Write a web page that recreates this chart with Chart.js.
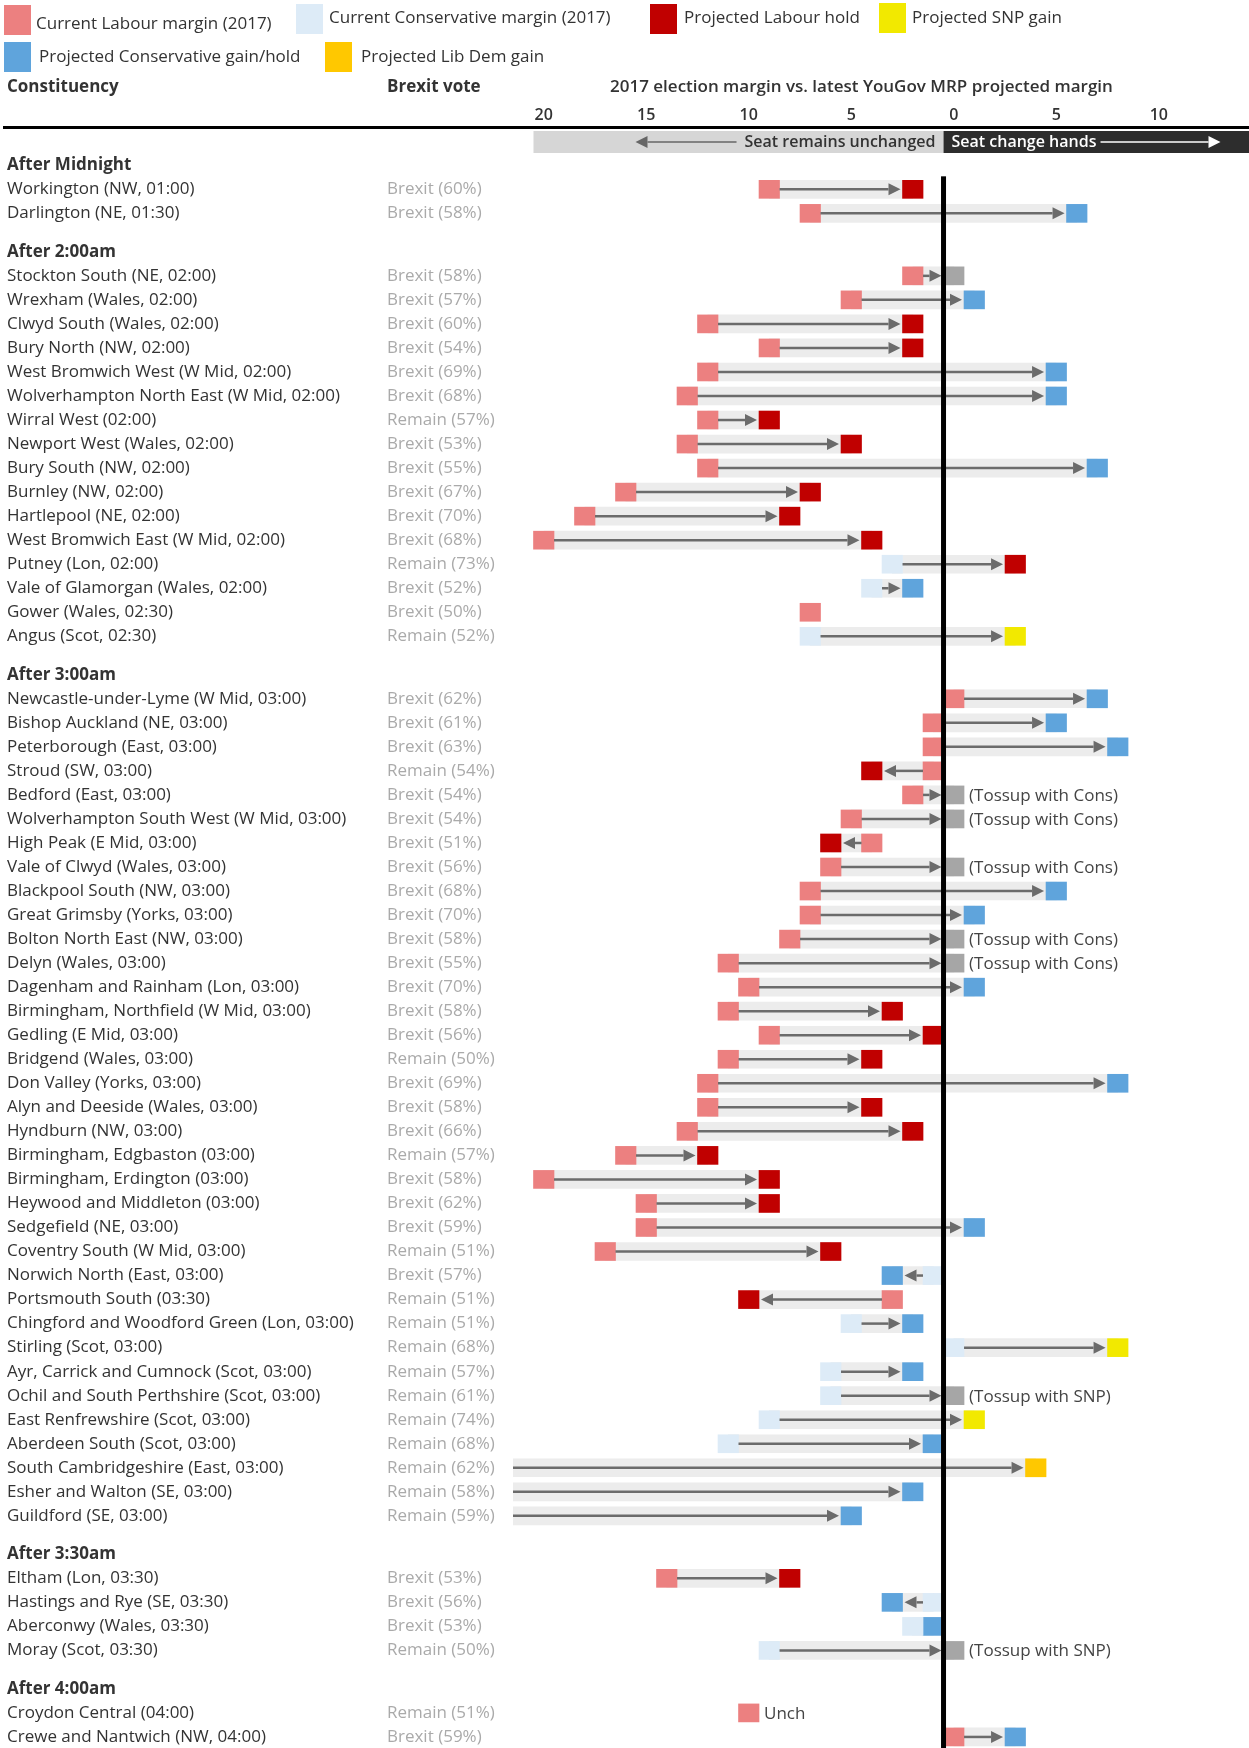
<!DOCTYPE html>
<html>
<head>
<meta charset="utf-8">
<script src="https://cdn.jsdelivr.net/npm/chart.js@4.4.1/dist/chart.umd.min.js"></script>
<style>
  html, body { margin: 0; padding: 0; background: #fff; }
  #wrap { position: relative; width: 1249px; height: 1748px; overflow: hidden;
          font-family: 'Open Sans', sans-serif; color: #333; }
  #chart { position: absolute; left: 0; top: 0; }
  .sw { position: absolute; width: 27px; height: 30px; }
  .lg { position: absolute; font-size: 17px; line-height: 20px; white-space: nowrap; }
  .hd { position: absolute; font-size: 17px; line-height: 20px; font-weight: bold; white-space: nowrap; }
</style>
</head>
<body>
<div id="wrap">
  <canvas id="chart" width="1249" height="1748"></canvas>

  <div class="sw" style="left:4px;top:5px;background:#ec8080"></div>
  <div class="lg" style="left:36px;top:13px">Current Labour margin (2017)</div>
  <div class="sw" style="left:296px;top:4px;background:#ddebf7"></div>
  <div class="lg" style="left:329px;top:7px">Current Conservative margin (2017)</div>
  <div class="sw" style="left:650px;top:4px;background:#c00000"></div>
  <div class="lg" style="left:684px;top:7px">Projected Labour hold</div>
  <div class="sw" style="left:879px;top:3px;background:#f2e900"></div>
  <div class="lg" style="left:912px;top:7px">Projected SNP gain</div>
  <div class="sw" style="left:4px;top:42px;background:#5fa4dc"></div>
  <div class="lg" style="left:39px;top:46px">Projected Conservative gain/hold</div>
  <div class="sw" style="left:325px;top:42px;background:#ffc800"></div>
  <div class="lg" style="left:361px;top:46px">Projected Lib Dem gain</div>

  <div class="hd" style="left:7px;top:76px">Constituency</div>
  <div class="hd" style="left:387px;top:76px">Brexit vote</div>
  <div class="hd" style="left:610px;top:76px;font-weight:600">2017 election margin vs. latest YouGov MRP projected margin</div>
</div>

<script>
// ---- data -------------------------------------------------------------
// margins: positive = current holder keeps the seat, negative = seat changes hands
const groupTitles = ['After Midnight', 'After 2:00am', 'After 3:00am', 'After 3:30am', 'After 4:00am'];
const groupSizes  = [2, 16, 35, 4, 2];

const seats = [
  'Workington (NW, 01:00)', 'Darlington (NE, 01:30)',
  'Stockton South (NE, 02:00)', 'Wrexham (Wales, 02:00)', 'Clwyd South (Wales, 02:00)', 'Bury North (NW, 02:00)',
  'West Bromwich West (W Mid, 02:00)', 'Wolverhampton North East (W Mid, 02:00)', 'Wirral West (02:00)',
  'Newport West (Wales, 02:00)', 'Bury South (NW, 02:00)', 'Burnley (NW, 02:00)', 'Hartlepool (NE, 02:00)',
  'West Bromwich East (W Mid, 02:00)', 'Putney (Lon, 02:00)', 'Vale of Glamorgan (Wales, 02:00)',
  'Gower (Wales, 02:30)', 'Angus (Scot, 02:30)',
  'Newcastle-under-Lyme (W Mid, 03:00)', 'Bishop Auckland (NE, 03:00)', 'Peterborough (East, 03:00)',
  'Stroud (SW, 03:00)', 'Bedford (East, 03:00)', 'Wolverhampton South West (W Mid, 03:00)',
  'High Peak (E Mid, 03:00)', 'Vale of Clwyd (Wales, 03:00)', 'Blackpool South (NW, 03:00)',
  'Great Grimsby (Yorks, 03:00)', 'Bolton North East (NW, 03:00)', 'Delyn (Wales, 03:00)',
  'Dagenham and Rainham (Lon, 03:00)', 'Birmingham, Northfield (W Mid, 03:00)', 'Gedling (E Mid, 03:00)',
  'Bridgend (Wales, 03:00)', 'Don Valley (Yorks, 03:00)', 'Alyn and Deeside (Wales, 03:00)',
  'Hyndburn (NW, 03:00)', 'Birmingham, Edgbaston (03:00)', 'Birmingham, Erdington (03:00)',
  'Heywood and Middleton (03:00)', 'Sedgefield (NE, 03:00)', 'Coventry South (W Mid, 03:00)',
  'Norwich North (East, 03:00)', 'Portsmouth South (03:30)', 'Chingford and Woodford Green (Lon, 03:00)',
  'Stirling (Scot, 03:00)', 'Ayr, Carrick and Cumnock (Scot, 03:00)', 'Ochil and South Perthshire (Scot, 03:00)',
  'East Renfrewshire (Scot, 03:00)', 'Aberdeen South (Scot, 03:00)', 'South Cambridgeshire (East, 03:00)',
  'Esher and Walton (SE, 03:00)', 'Guildford (SE, 03:00)',
  'Eltham (Lon, 03:30)', 'Hastings and Rye (SE, 03:30)', 'Aberconwy (Wales, 03:30)', 'Moray (Scot, 03:30)',
  'Croydon Central (04:00)', 'Crewe and Nantwich (NW, 04:00)'
];

const voteSide = [
  'Brexit', 'Brexit',
  'Brexit', 'Brexit', 'Brexit', 'Brexit', 'Brexit', 'Brexit', 'Remain', 'Brexit', 'Brexit', 'Brexit',
  'Brexit', 'Brexit', 'Remain', 'Brexit', 'Brexit', 'Remain',
  'Brexit', 'Brexit', 'Brexit', 'Remain', 'Brexit', 'Brexit', 'Brexit', 'Brexit', 'Brexit', 'Brexit',
  'Brexit', 'Brexit', 'Brexit', 'Brexit', 'Brexit', 'Remain', 'Brexit', 'Brexit', 'Brexit', 'Remain',
  'Brexit', 'Brexit', 'Brexit', 'Remain', 'Brexit', 'Remain', 'Remain', 'Remain', 'Remain', 'Remain',
  'Remain', 'Remain', 'Remain', 'Remain', 'Remain',
  'Brexit', 'Brexit', 'Brexit', 'Remain',
  'Remain', 'Brexit'
];
const votePct = [
  60, 58,
  58, 57, 60, 54, 69, 68, 57, 53, 55, 67, 70, 68, 73, 52, 50, 52,
  62, 61, 63, 54, 54, 54, 51, 56, 68, 70, 58, 55, 70, 58, 56, 50, 69, 58, 66, 57,
  58, 62, 59, 51, 57, 51, 51, 68, 57, 61, 74, 68, 62, 58, 59,
  53, 56, 53, 50,
  51, 59
];

const holder2017 = [
  'Lab', 'Lab',
  'Lab', 'Lab', 'Lab', 'Lab', 'Lab', 'Lab', 'Lab', 'Lab', 'Lab', 'Lab', 'Lab', 'Lab', 'Con', 'Con', 'Lab', 'Con',
  'Lab', 'Lab', 'Lab', 'Lab', 'Lab', 'Lab', 'Lab', 'Lab', 'Lab', 'Lab', 'Lab', 'Lab', 'Lab', 'Lab', 'Lab', 'Lab',
  'Lab', 'Lab', 'Lab', 'Lab', 'Lab', 'Lab', 'Lab', 'Lab', 'Con', 'Lab', 'Con', 'Con', 'Con', 'Con', 'Con', 'Con',
  'Con', 'Con', 'Con',
  'Lab', 'Con', 'Con', 'Con',
  'Lab', 'Lab'
];
const margin2017 = [
  9, 7,
  2, 5, 12, 9, 12, 13, 12, 13, 12, 16, 18, 20, 3, 4, 7, 7,
  0, 1, 1, 1, 2, 5, 4, 6, 7, 7, 8, 11, 10, 11, 9, 11, 12, 12, 13, 16,
  20, 15, 15, 17, 1, 3, 5, 0, 6, 6, 9, 11, 23, 36, 30,
  14, 1, 2, 9,
  10, 0
];

const projWinner = [
  'Lab', 'Con',
  'Toss', 'Con', 'Lab', 'Lab', 'Con', 'Con', 'Lab', 'Lab', 'Con', 'Lab', 'Lab', 'Lab', 'Lab', 'Con', null, 'SNP',
  'Con', 'Con', 'Con', 'Lab', 'Toss', 'Toss', 'Lab', 'Toss', 'Con', 'Con', 'Toss', 'Toss', 'Con', 'Lab', 'Lab', 'Lab',
  'Con', 'Lab', 'Lab', 'Lab', 'Lab', 'Lab', 'Con', 'Lab', 'Con', 'Lab', 'Con', 'SNP', 'Con', 'Toss', 'SNP', 'Con',
  'LD', 'Con', 'Con',
  'Lab', 'Con', 'Con', 'Toss',
  null, 'Con'
];
const projMargin = [
  2, -6,
  0, -1, 2, 2, -5, -5, 9, 5, -7, 7, 8, 4, -3, 2, null, -3,
  -7, -5, -8, 4, 0, 0, 6, 0, -5, -1, 0, 0, -1, 3, 1, 4, -8, 4, 2, 12,
  9, 9, -1, 6, 3, 10, 2, -8, 2, 0, -1, 1, -4, 2, 5,
  8, 3, 1, 0,
  null, -3
];
const notes = {
  'Bedford (East, 03:00)': '(Tossup with Cons)',
  'Wolverhampton South West (W Mid, 03:00)': '(Tossup with Cons)',
  'Vale of Clwyd (Wales, 03:00)': '(Tossup with Cons)',
  'Bolton North East (NW, 03:00)': '(Tossup with Cons)',
  'Delyn (Wales, 03:00)': '(Tossup with Cons)',
  'Ochil and South Perthshire (Scot, 03:00)': '(Tossup with SNP)',
  'Moray (Scot, 03:30)': '(Tossup with SNP)',
  'Croydon Central (04:00)': 'Unch'
};

const xTicks = [20, 15, 10, 5, 0, -5, -10];
const DIVIDE = 0.5;          // boundary between "unchanged" and "change hands"
const GROUP_GAP = 1.6;       // extra space (in rows) before each group title

// ---- layout helpers ---------------------------------------------------
const FONT = "'Open Sans', sans-serif";
const COLORS = {
  Lab0: '#ec8080', Con0: '#ddebf7',
  Lab: '#c00000', Con: '#5fa4dc', SNP: '#f2e900', LD: '#ffc800', Toss: '#a6a6a6'
};

const rowPos = [];
const nameTicks = [];
let cur = 0;
groupSizes.forEach((n, g) => {
  nameTicks.push({ value: cur, label: groupTitles[g], head: true });
  for (let i = 1; i <= n; i++) {
    const idx = rowPos.length;
    rowPos.push(cur + i);
    nameTicks.push({ value: cur + i, label: seats[idx], head: false });
  }
  cur += n + GROUP_GAP;
});

function squares(list, key) {
  const out = [];
  rowPos.forEach((p, i) => {
    const v = list === 'start' ? margin2017[i] : projMargin[i];
    const k = list === 'start' ? holder2017[i] + '0' : projWinner[i];
    if (v !== null && k === key) out.push({ x: [v - 0.5, v + 0.5], y: p });
  });
  return out;
}

const bandData = [];
rowPos.forEach((p, i) => {
  if (projMargin[i] !== null) bandData.push({ x: [margin2017[i], projMargin[i]], y: p });
});

const base = { type: 'bar', barThickness: 18, grouped: false, borderWidth: 0, yAxisID: 'yn' };
const datasets = [
  Object.assign({ label: 'band', data: bandData, backgroundColor: '#ececec', order: 10 }, base),
  Object.assign({ label: 'Current Labour margin (2017)', data: squares('start', 'Lab0'), backgroundColor: COLORS.Lab0, order: 1 }, base),
  Object.assign({ label: 'Current Conservative margin (2017)', data: squares('start', 'Con0'), backgroundColor: COLORS.Con0, order: 1 }, base),
  Object.assign({ label: 'Projected Labour hold', data: squares('end', 'Lab'), backgroundColor: COLORS.Lab, order: 1 }, base),
  Object.assign({ label: 'Projected Conservative gain/hold', data: squares('end', 'Con'), backgroundColor: COLORS.Con, order: 1 }, base),
  Object.assign({ label: 'Projected SNP gain', data: squares('end', 'SNP'), backgroundColor: COLORS.SNP, order: 1 }, base),
  Object.assign({ label: 'Projected Lib Dem gain', data: squares('end', 'LD'), backgroundColor: COLORS.LD, order: 1 }, base),
  Object.assign({ label: 'Tossup', data: squares('end', 'Toss'), backgroundColor: COLORS.Toss, order: 1 }, base)
];

// header strip, arrows, notes and the black divide line
const decor = {
  id: 'decor',
  beforeDatasetsDraw(chart) {
    const { ctx, chartArea: ca, scales: { x } } = chart;
    const xd = x.getPixelForValue(DIVIDE);
    const xl = x.getPixelForValue(20.5);
    ctx.save();
    ctx.fillStyle = '#000';
    ctx.fillRect(3, ca.top - 2, chart.width - 3, 3);
    ctx.fillStyle = '#d6d6d6';
    ctx.fillRect(xl, ca.top + 3, xd - xl, 22);
    ctx.fillStyle = '#2d2d2d';
    ctx.fillRect(xd, ca.top + 3, ca.right - xd, 22);
    const ym = ca.top + 14;
    ctx.font = '600 16px ' + FONT;
    ctx.textBaseline = 'middle';
    ctx.textAlign = 'right';
    ctx.fillStyle = '#333';
    ctx.fillText('Seat remains unchanged', xd - 8, ym);
    ctx.textAlign = 'left';
    ctx.fillStyle = '#fff';
    ctx.fillText('Seat change hands', xd + 8, ym);
    drawArrow(ctx, xd - 207, xd - 308, ym, '#666', 1.5);
    drawArrow(ctx, xd + 157, xd + 277, ym, '#fff', 1.5);
    ctx.restore();
  },
  afterDatasetsDraw(chart) {
    const { ctx, chartArea: ca, scales: { x, yn } } = chart;
    const half = Math.abs(x.getPixelForValue(0) - x.getPixelForValue(0.5));
    ctx.save();
    ctx.beginPath();
    ctx.rect(ca.left, ca.top, ca.right - ca.left, ca.bottom - ca.top);
    ctx.clip();
    rowPos.forEach((p, i) => {
      const a = margin2017[i], b = projMargin[i];
      if (b === null || Math.abs(a - b) < 2) return;
      const xa = x.getPixelForValue(a), xb = x.getPixelForValue(b);
      const dir = xb > xa ? 1 : -1;
      drawArrow(ctx, xa + dir * half, xb - dir * (half + 2), yn.getPixelForValue(p), '#6b6b6b', 2.5);
    });
    ctx.font = '17px ' + FONT;
    ctx.fillStyle = '#444';
    ctx.textAlign = 'left';
    ctx.textBaseline = 'middle';
    rowPos.forEach((p, i) => {
      const note = notes[seats[i]];
      if (!note) return;
      const v = projMargin[i] !== null ? projMargin[i] : margin2017[i];
      ctx.fillText(note, x.getPixelForValue(v) + half + 5, yn.getPixelForValue(p) + 1);
    });
    const xd = x.getPixelForValue(DIVIDE);
    const y0 = yn.getPixelForValue(rowPos[0]) - 13;
    ctx.fillStyle = '#000';
    ctx.fillRect(xd - 2.5, y0, 5, ca.bottom - y0);
    ctx.restore();
  }
};

function drawArrow(ctx, x0, tip, y, color, width) {
  const dir = tip > x0 ? 1 : -1;
  const len = 12, hh = 6;
  ctx.strokeStyle = color;
  ctx.fillStyle = color;
  ctx.lineWidth = width;
  ctx.beginPath();
  ctx.moveTo(x0, y);
  ctx.lineTo(tip - dir * len, y);
  ctx.stroke();
  ctx.beginPath();
  ctx.moveTo(tip, y);
  ctx.lineTo(tip - dir * len, y - hh);
  ctx.lineTo(tip - dir * len, y + hh);
  ctx.closePath();
  ctx.fill();
}

// labels sitting at the very edges must not shrink the plot area
function noEdgePadding(s) {
  s.paddingTop = 0; s.paddingBottom = 0; s.paddingLeft = 0; s.paddingRight = 0;
}

const yRange = { min: -1.552, max: 65.86 };

new Chart(document.getElementById('chart'), {
  type: 'bar',
  data: { datasets },
  options: {
    indexAxis: 'y',
    responsive: false,
    animation: false,
    devicePixelRatio: 1,
    layout: { padding: { top: 98, left: 7, right: 0, bottom: 0 } },
    plugins: { legend: { display: false }, tooltip: { enabled: false } },
    scales: {
      x: {
        type: 'linear', position: 'top', reverse: true, min: -14.4, max: 21.5,
        grid: { display: false, drawTicks: false }, border: { display: false },
        afterBuildTicks: s => { s.ticks = xTicks.map(v => ({ value: v })); },
        afterFit: s => { s.height = 30; noEdgePadding(s); },
        ticks: {
          autoSkip: false, maxRotation: 0, padding: 3, color: '#333',
          font: { family: FONT, size: 16, weight: '600' },
          callback: v => Math.abs(v)
        }
      },
      yn: {
        type: 'linear', position: 'left', reverse: true, offset: false, weight: 2,
        min: yRange.min, max: yRange.max,
        grid: { display: false, drawTicks: false }, border: { display: false },
        afterBuildTicks: s => { s.ticks = nameTicks.map(t => ({ value: t.value })); },
        afterFit: s => { s.width = 380; noEdgePadding(s); },
        ticks: {
          autoSkip: false, crossAlign: 'far', padding: 0, color: '#333',
          font: c => ({ family: FONT, size: 17, weight: nameTicks[c.index] && nameTicks[c.index].head ? 'bold' : 'normal' }),
          callback: (v, i) => nameTicks[i].label
        }
      },
      yv: {
        type: 'linear', position: 'left', reverse: true, offset: false, weight: 1,
        min: yRange.min, max: yRange.max,
        grid: { display: false, drawTicks: false }, border: { display: false },
        afterBuildTicks: s => { s.ticks = rowPos.map(v => ({ value: v })); },
        afterFit: s => { s.width = 126; noEdgePadding(s); },
        ticks: {
          autoSkip: false, crossAlign: 'far', padding: 0, color: '#aaaaaa',
          font: { family: FONT, size: 17 },
          callback: (v, i) => voteSide[i] + ' (' + votePct[i] + '%)'
        }
      }
    }
  },
  plugins: [decor]
});
</script>
</body>
</html>
